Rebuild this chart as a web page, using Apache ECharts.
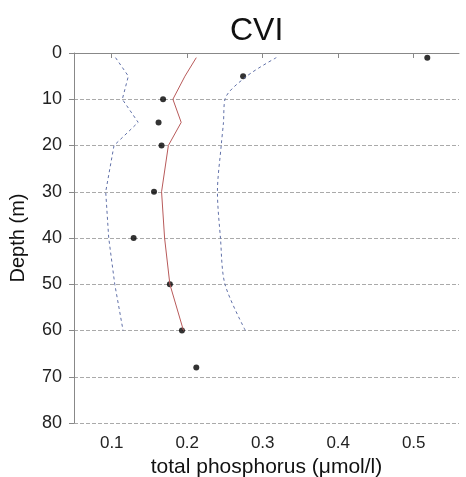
<!DOCTYPE html>
<html lang="en">
<head>
    <meta charset="UTF-8">
    <title>CVI</title>
    <script src="https://cdn.jsdelivr.net/npm/echarts@6/dist/echarts.min.js"></script>
    <style>
        html, body { margin: 0; padding: 0; background: #fff; }
        #main { width: 466px; height: 477px; }
    </style>
</head>
<body>
<div id="main"></div>
<script>
    // observed total phosphorus by depth (dots)
    var obsDepth = [1, 5, 10, 15, 20, 30, 40, 50, 60, 68];
    var obsValue = [0.518, 0.274, 0.168, 0.162, 0.166, 0.156, 0.129, 0.177, 0.193, 0.212];

    // model mean (red) and bounds (dashed)
    var lineDepth = [1, 5, 10, 15, 20, 30, 40, 50, 60];
    var meanValue = [0.212, 0.197, 0.181, 0.192, 0.175, 0.166, 0.170, 0.177, 0.195];
    var lowValue = [0.105, 0.122, 0.114, 0.135, 0.103, 0.092, 0.096, 0.104, 0.115];
    var highValue = [0.318, 0.279, 0.250, 0.248, 0.245, 0.240, 0.244, 0.250, 0.277];

    var xTicks = [0.1, 0.2, 0.3, 0.4, 0.5];

    function pairs(xs, ys) {
        return xs.map(function (v, i) { return [v, ys[i]]; });
    }

    var myChart = echarts.init(document.getElementById('main'));
    var font = 'Liberation Sans, Arial, sans-serif';

    var option = {
        animation: false,
        title: {
            text: 'CVI',
            left: 225,
            top: 10,
            textStyle: { fontFamily: font, fontSize: 32, fontWeight: 'normal', color: '#111' }
        },
        grid: { left: 74, right: 7, top: 53, bottom: 54, outerBoundsMode: 'none', containLabel: false },
        xAxis: {
            type: 'value',
            min: 0.05,
            max: 0.56,
            name: 'total phosphorus (\u03bcmol/l)',
            nameLocation: 'middle',
            nameGap: 25,
            nameTextStyle: { fontFamily: font, fontSize: 21, color: '#111' },
            axisLine: { show: true, lineStyle: { color: '#888' } },
            axisTick: { show: true, length: 5, customValues: xTicks, lineStyle: { color: '#888' } },
            axisLabel: {
                customValues: xTicks, margin: 12,
                fontFamily: font, fontSize: 17, color: '#222',
                formatter: function (v) { return v.toFixed(1); }
            },
            splitLine: { show: false }
        },
        yAxis: {
            type: 'value',
            inverse: true,
            min: 0,
            max: 80,
            interval: 10,
            name: 'Depth (m)',
            nameLocation: 'middle',
            nameGap: 46,
            nameTextStyle: { fontFamily: font, fontSize: 20, color: '#111' },
            axisLine: { show: true, lineStyle: { color: '#888' } },
            axisTick: { show: true, length: 5, lineStyle: { color: '#888' } },
            axisLabel: { margin: 12, fontFamily: font, fontSize: 18, color: '#222' },
            splitLine: { show: true, lineStyle: { color: '#aaa', type: [4, 2], width: 1 } }
        },
        series: [
            {
                type: 'line',
                data: pairs(lowValue, lineDepth),
                symbol: 'none',
                lineStyle: { color: '#6070a8', width: 1, type: [3, 3] }
            },
            {
                type: 'line',
                data: pairs(highValue, lineDepth),
                symbol: 'none',
                smooth: 0.3,
                lineStyle: { color: '#6070a8', width: 1, type: [3, 3] }
            },
            {
                type: 'line',
                data: pairs(meanValue, lineDepth),
                symbol: 'none',
                lineStyle: { color: '#b85a5a', width: 1 }
            },
            {
                type: 'scatter',
                data: pairs(obsValue, obsDepth),
                symbolSize: 6,
                itemStyle: { color: '#000' }
            }
        ]
    };

    myChart.setOption(option);
</script>
</body>
</html>
